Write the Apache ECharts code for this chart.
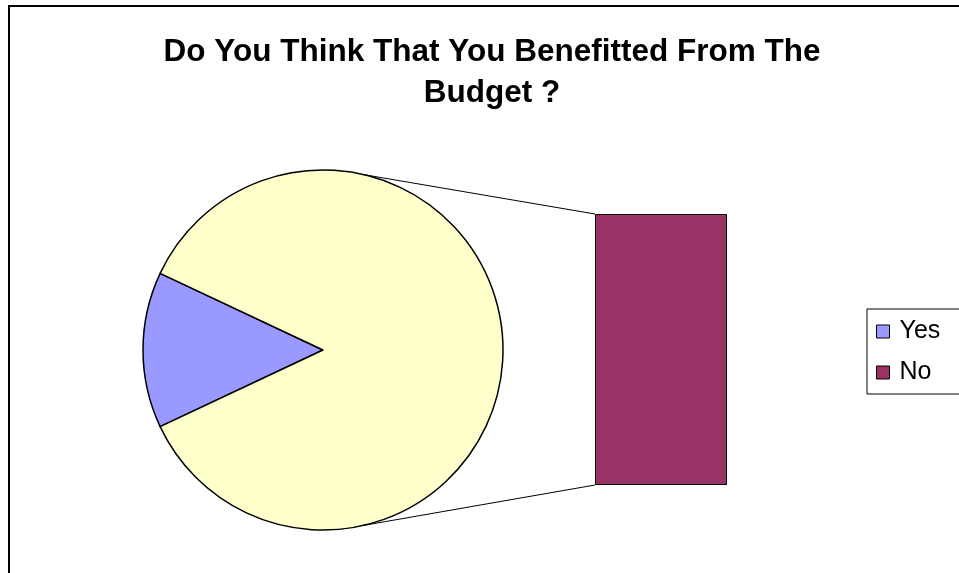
<!DOCTYPE html>
<html><head><meta charset="utf-8">
<script src="https://cdn.jsdelivr.net/npm/echarts@6/dist/echarts.min.js"></script>
<style>html,body{margin:0;padding:0;background:#fff}#c{width:959px;height:573px}</style>
</head><body><div id="c"></div>
<script>
const titleText = 'Do You Think That You Benefitted From The\nBudget ?';
const categories = ['Yes', 'No'];
const values = [14, 86];
const otherLabel = 'Other';
const colors = { Yes: '#9999FF', No: '#993366', Other: '#FFFFCC' };

const FONT = '"Liberation Sans", Arial, sans-serif';
const pieCenter = [323, 350];
const pieRadius = 180;
const total = values[0] + values[1];
const startAngle = 180 + (values[0] / total) * 360 / 2;
const grid = { left: 595, top: 214, width: 132, height: 271 };

const chart = echarts.init(document.getElementById('c'), null, { renderer: 'canvas' });
chart.setOption({
  animation: false,
  backgroundColor: '#fff',
  title: {
    text: titleText, left: 487, top: 27, textAlign: 'center',
    textStyle: { fontFamily: FONT, fontSize: 31.5, fontWeight: 'bold', color: '#000', lineHeight: 41 }
  },
  legend: {
    data: categories, orient: 'vertical', left: 867, top: 309,
    padding: [10, 20, 9, 9], itemGap: 16, itemWidth: 13, itemHeight: 13,
    borderColor: '#000', borderWidth: 1, icon: 'rect',
    itemStyle: { borderColor: '#000', borderWidth: 1 },
    textStyle: { fontFamily: FONT, fontSize: 25, color: '#000', padding: [0, 0, 0, 5] }
  },
  grid: { left: grid.left, top: grid.top, width: grid.width, height: grid.height },
  xAxis: { type: 'category', data: [categories[1]], show: false },
  yAxis: { type: 'value', min: 0, max: values[1], show: false },
  series: [
    {
      type: 'pie', name: 'Budget', center: pieCenter, radius: pieRadius,
      startAngle: startAngle, clockwise: true, label: { show: false }, labelLine: { show: false },
      emphasis: { disabled: true },
      itemStyle: { borderColor: '#000', borderWidth: 1.5 },
      data: [
        { name: categories[0], value: values[0], itemStyle: { color: colors.Yes } },
        { name: otherLabel, value: values[1], itemStyle: { color: colors.Other } }
      ]
    },
    {
      type: 'bar', name: categories[1], barWidth: '100%',
      itemStyle: { color: colors.No, borderColor: '#000', borderWidth: 1 },
      data: [values[1]]
    }
  ]
});

const topPt = chart.convertToPixel({ xAxisIndex: 0, yAxisIndex: 0 }, [0, values[1]]);
const botPt = chart.convertToPixel({ xAxisIndex: 0, yAxisIndex: 0 }, [0, 0]);
const connAngle = 77.2 * Math.PI / 180;
const px = pieCenter[0] + pieRadius * Math.cos(connAngle);
const pyTop = pieCenter[1] - pieRadius * Math.sin(connAngle);
const pyBot = pieCenter[1] + pieRadius * Math.sin(connAngle);
chart.setOption({
  graphic: [
    { type: 'line', shape: { x1: px, y1: pyTop, x2: grid.left, y2: topPt[1] }, style: { stroke: '#000', lineWidth: 1 }, z: 10 },
    { type: 'line', shape: { x1: px, y1: pyBot, x2: grid.left, y2: botPt[1] }, style: { stroke: '#000', lineWidth: 1 }, z: 10 },
    { type: 'rect', shape: { x: 9, y: 6, width: 1000, height: 700 }, style: { fill: 'none', stroke: '#000', lineWidth: 2 }, z: 10 }
  ]
});
</script></body></html>
